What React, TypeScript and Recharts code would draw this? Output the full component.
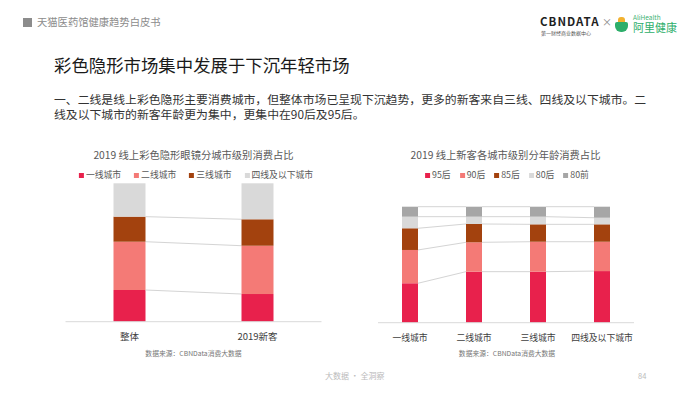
import React from 'react';
import { BarChart, Bar, XAxis, YAxis } from 'recharts';

// left chart: city tier share, overall vs 2019 new customers
const cityCategories = ['整体', '2019新客'];
const cityTiers = ['一线城市', '二线城市', '三线城市', '四线及以下城市'];
const tier1 = [22.9, 20.0];
const tier2 = [34.9, 34.9];
const tier3 = [18.1, 19.1];
const tier4 = [24.1, 26.0];

// right chart: age share of new customers per city tier
const ageCategories = ['一线城市', '二线城市', '三线城市', '四线及以下城市'];
const ageGroups = ['95后', '90后', '85后', '80后', '80前'];
const age95 = [34.0, 44.0, 44.0, 44.5];
const age90 = [28.7, 25.3, 25.8, 25.3];
const age85 = [18.7, 15.8, 15.0, 15.0];
const age80 = [10.0, 6.3, 6.6, 5.7];
const agePre80 = [8.6, 8.6, 8.6, 9.5];

const cityColors = ['#E8214C', '#F47A76', '#A3420E', '#D9D9D9'];
const ageColors = ['#E8214C', '#F47A76', '#A3420E', '#D9D9D9', '#A6A6A6'];

const FONT = '"Noto Sans CJK SC", "Noto Sans", sans-serif';

const cityKeys = ['t1', 't2', 't3', 't4'];
const cityData = cityCategories.map((name, i) => ({
  name, t1: tier1[i], t2: tier2[i], t3: tier3[i], t4: tier4[i],
}));
const ageKeys = ['a95', 'a90', 'a85', 'a80', 'a00'];
const ageData = ageCategories.map((name, i) => ({
  name, a95: age95[i], a90: age90[i], a85: age85[i], a80: age80[i], a00: agePre80[i],
}));

// bar segment plus a thin grey connector to the same stack level of the next bar
function segmentShape(keys: string[], data: any[], keyIdx: number, step: number, color: string, connect: boolean) {
  return (props: any) => {
    const { x, y, width, height, index } = props;
    const row = data[index];
    const v = row[keys[keyIdx]];
    const cum = (r: any) => keys.slice(0, keyIdx + 1).reduce((s, k) => s + r[k], 0);
    let conn = null;
    if (connect && index < data.length - 1 && v > 0) {
      const k = height / v;
      const base = y + cum(row) * k;
      const yNext = base - cum(data[index + 1]) * k;
      conn = <line x1={x + width} y1={y} x2={x + step} y2={yNext} stroke="#D4D4D4" strokeWidth={1} />;
    }
    return (
      <g>
        <rect x={x} y={y} width={width} height={height} fill={color} />
        {conn}
      </g>
    );
  };
}

function T({ x, y, size, color = '#333', anchor = 'left', weight = 400, children, spacing = 0 }: any) {
  const style: React.CSSProperties = {
    position: 'absolute', top: y - size * 0.5, fontSize: size, color, lineHeight: `${size}px`,
    whiteSpace: 'nowrap', fontWeight: weight, letterSpacing: spacing,
  };
  if (anchor === 'center') { style.left = x; style.transform = 'translateX(-50%)'; }
  else style.left = x;
  return <div style={style}>{children}</div>;
}

function LegendRow({ x, y, labels, colors, gap }: { x: number; y: number; labels: string[]; colors: string[]; gap: number }) {
  return (
    <div style={{
      position: 'absolute', left: x, top: y - 5, transform: 'translateX(-50%)', display: 'flex',
      alignItems: 'center', gap, fontSize: 8.8, color: '#595959', lineHeight: '10px', whiteSpace: 'nowrap',
    }}>
      {labels.map((l, i) => (
        <span key={l} style={{ display: 'flex', alignItems: 'center' }}>
          <span style={{ width: 5, height: 5, background: colors[i], marginRight: 2, display: 'inline-block' }} />
          {l}
        </span>
      ))}
    </div>
  );
}

const tickStyle = { fontSize: 9.5, fill: '#404040', fontFamily: FONT };

export default function App() {
  const leftW = 310, leftM = { top: 3.3, right: 28.5, bottom: 8.3, left: 25.5 };
  const leftStep = (leftW - leftM.left - leftM.right) / cityCategories.length;
  const rightW = 290, rightM = { top: 6.7, right: 16, bottom: 7.3, left: 18 };
  const rightStep = (rightW - rightM.left - rightM.right) / ageCategories.length;

  return (
    <div style={{
      position: 'absolute', left: 0, top: 0, width: 700, height: 394, background: '#fff',
      overflow: 'hidden', fontFamily: FONT,
    }}>
      {/* header */}
      <div style={{ position: 'absolute', left: 23, top: 18, width: 9, height: 9, background: '#8C8C8C' }} />
      <T x={37} y={22.5} size={10.3} color="#8C8C8C">天猫医药馆健康趋势白皮书</T>

      {/* logos */}
      <T x={540} y={21.5} size={11.5} color="#1F1F1F" weight={700} spacing={1}>CBNDATA</T>
      <T x={541} y={32} size={5} color="#555">第一财经商业数据中心</T>
      <T x={602} y={22} size={10} color="#888">×</T>
      <div style={{ position: 'absolute', left: 615, top: 17, width: 13, height: 15 }}>
        <div style={{ position: 'absolute', left: 3, top: 0, width: 7, height: 6, background: '#F2B12F', borderRadius: '3px 3px 0 0' }} />
        <div style={{ position: 'absolute', left: 0, top: 5, width: 13, height: 10, background: '#2DAE6A', borderRadius: '2px 2px 6px 6px' }} />
      </div>
      <div style={{ position: 'absolute', left: 633, top: 13, whiteSpace: 'nowrap', color: '#2DAE6A' }}>
        <div style={{ fontSize: 6.5, lineHeight: '8px', color: '#3BB273' }}>AliHealth</div>
        <div style={{ fontSize: 11, lineHeight: '13px' }}>阿里健康</div>
      </div>

      {/* title + intro */}
      <T x={54} y={65} size={17.4} color="#1A1A1A">彩色隐形市场集中发展于下沉年轻市场</T>
      <div style={{
        position: 'absolute', left: 54, top: 90.5, fontSize: 11.85, lineHeight: '15px', color: '#333', whiteSpace: 'nowrap',
      }}>
        一、二线是线上彩色隐形主要消费城市，但整体市场已呈现下沉趋势，更多的新客来自三线、四线及以下城市。二<br />
        线及以下城市的新客年龄更为集中，更集中在90后及95后。
      </div>

      {/* left chart */}
      <T x={193.5} y={155} size={10.3} color="#595959" anchor="center">2019 线上彩色隐形眼镜分城市级别消费占比</T>
      <LegendRow x={196} y={175} labels={cityTiers} colors={cityColors} gap={13} />
      <div style={{ position: 'absolute', left: 40, top: 180 }}>
        <BarChart width={leftW} height={180} data={cityData} margin={leftM}>
          <XAxis dataKey="name" axisLine={{ stroke: '#D9D9D9' }} tickLine={false} tick={tickStyle} tickMargin={6} />
          <YAxis hide domain={[0, 100]} />
          {cityKeys.map((k, i) => (
            <Bar key={k} dataKey={k} stackId="s" barSize={32} isAnimationActive={false} fill={cityColors[i]}
              shape={segmentShape(cityKeys, cityData, i, leftStep, cityColors[i], i < 3)} />
          ))}
        </BarChart>
      </div>
      <T x={193.5} y={353} size={6.8} color="#777" anchor="center">数据来源：CBNData消费大数据</T>

      {/* right chart */}
      <T x={505.5} y={155} size={10.3} color="#595959" anchor="center">2019 线上新客各城市级别分年龄消费占比</T>
      <LegendRow x={507} y={175} labels={ageGroups} colors={ageColors} gap={9} />
      <div style={{ position: 'absolute', left: 360, top: 200 }}>
        <BarChart width={rightW} height={160} data={ageData} margin={rightM}>
          <XAxis dataKey="name" axisLine={{ stroke: '#D9D9D9' }} tickLine={false} tick={{ ...tickStyle, fontSize: 8.8 }} tickMargin={6} interval={0} />
          <YAxis hide domain={[0, 100]} />
          {ageKeys.map((k, i) => (
            <Bar key={k} dataKey={k} stackId="s" barSize={16} isAnimationActive={false} fill={ageColors[i]}
              shape={segmentShape(ageKeys, ageData, i, rightStep, ageColors[i], true)} />
          ))}
        </BarChart>
      </div>
      <T x={507} y={353} size={6.8} color="#777" anchor="center">数据来源：CBNData消费大数据</T>

      {/* footer */}
      <T x={325} y={376} size={8} color="#BBBBBB">大数据 · 全洞察</T>
      <T x={638} y={376} size={7.5} color="#BBBBBB">84</T>
    </div>
  );
}
